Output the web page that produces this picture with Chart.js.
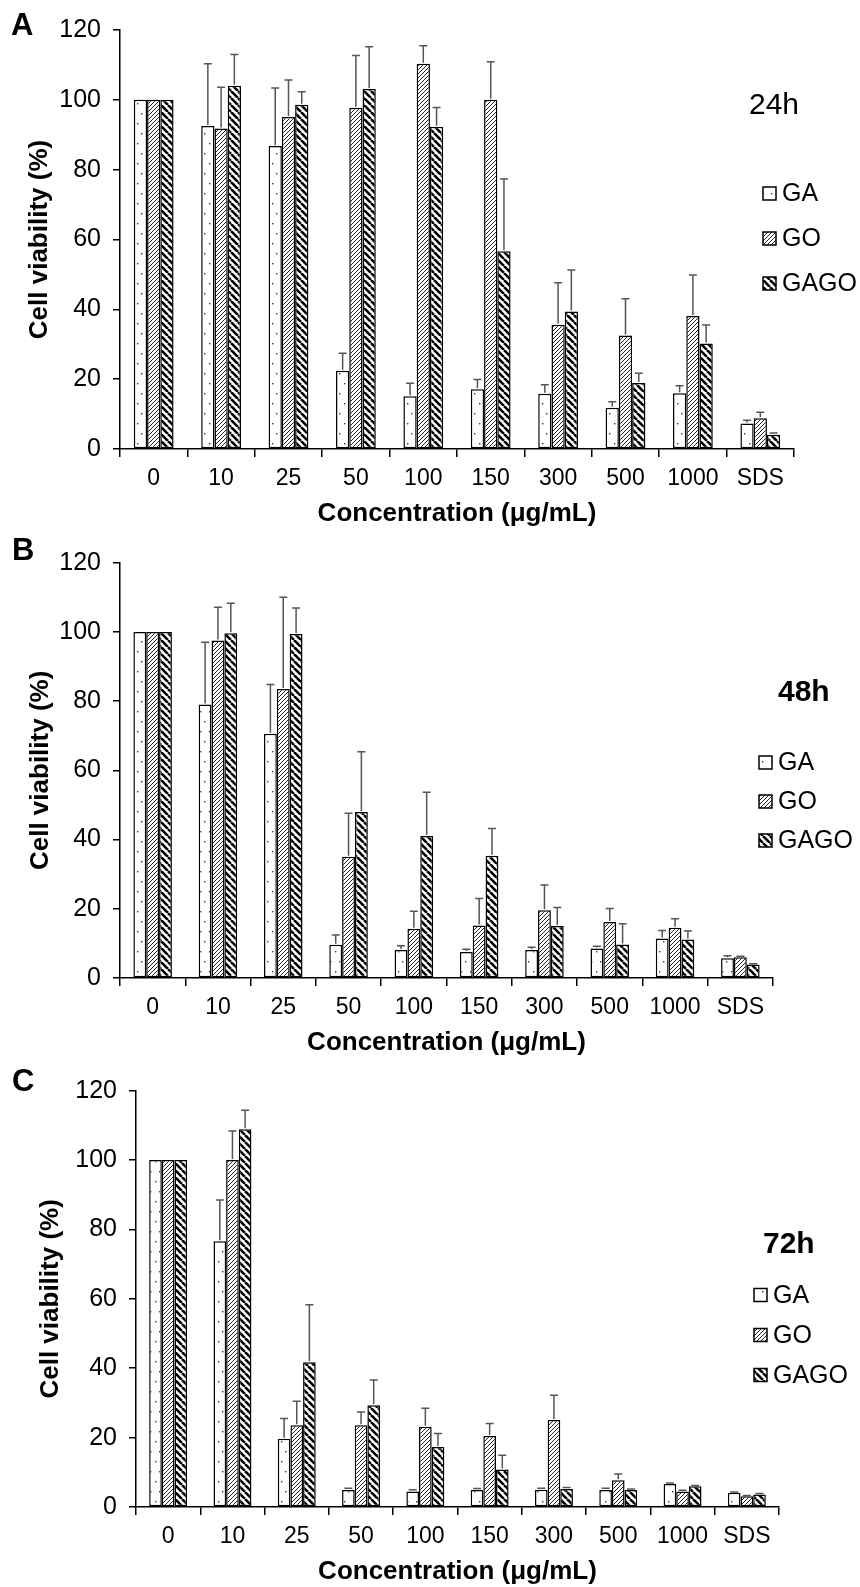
<!DOCTYPE html>
<html><head><meta charset="utf-8">
<script src="https://cdn.jsdelivr.net/npm/chart.js@4.4.0/dist/chart.umd.min.js"></script>
<style>
html,body{margin:0;padding:0;background:#fff;width:860px;height:1587px;overflow:hidden}
canvas{position:absolute;left:0}
</style></head><body>
<canvas id="cA" width="860" height="528" style="top:0px"></canvas>
<canvas id="cB" width="860" height="530" style="top:528px"></canvas>
<canvas id="cC" width="860" height="529" style="top:1058px"></canvas>
<script>
const categories = ['0','10','25','50','100','150','300','500','1000','SDS'];
const seriesNames = ['GA','GO','GAGO'];
const yTickMin = 0, yTickMax = 120, yTickStep = 20;
const xTitle = 'Concentration (μg/mL)';
const yTitle = 'Cell viability (%)';

// 24 h
const ga24 = [100, 92.5, 86.8, 22.4, 15.1, 17.1, 15.8, 11.8, 16.0, 7.3];
const go24 = [100, 91.8, 95.1, 97.7, 110.3, 100.0, 35.6, 32.5, 38.1, 8.8];
const gago24 = [100, 104.0, 98.6, 103.1, 92.3, 56.6, 39.4, 18.9, 30.2, 4.1];
const ga24Err = [0, 17.8, 16.6, 5.0, 3.7, 2.8, 2.6, 1.7, 2.1, 0.9];
const go24Err = [0, 11.8, 10.6, 15.0, 5.2, 10.9, 12.0, 10.5, 11.7, 1.7];
const gago24Err = [0, 9.0, 3.7, 12.1, 5.5, 20.7, 11.9, 2.8, 5.3, 0.5];

// 48 h
const ga48 = [100, 79.0, 70.6, 9.6, 8.1, 7.5, 8.1, 8.5, 11.4, 5.7];
const go48 = [100, 97.5, 83.5, 35.0, 14.2, 15.2, 19.6, 16.2, 14.5, 6.0];
const gago48 = [100, 99.6, 99.4, 48.0, 41.0, 35.3, 15.0, 9.7, 11.1, 3.9];
const ga48Err = [0, 18.0, 14.2, 2.8, 1.2, 0.8, 0.8, 0.7, 2.3, 0.7];
const go48Err = [0, 9.6, 26.5, 12.6, 5.1, 7.8, 7.3, 3.9, 2.6, 0.3];
const gago48Err = [0, 8.7, 7.5, 17.4, 12.7, 7.9, 5.4, 6.0, 2.5, 0.2];

// 72 h
const ga72 = [100, 76.6, 19.7, 4.9, 4.5, 4.9, 5.0, 4.9, 6.6, 4.1];
const go72 = [100, 100, 23.6, 23.6, 23.1, 20.5, 25.1, 7.7, 4.5, 3.1];
const gago72 = [100, 108.9, 41.7, 29.3, 17.3, 10.8, 5.2, 4.9, 6.0, 3.6];
const ga72Err = [0, 11.9, 5.8, 0.5, 0.5, 0.4, 0.4, 0.5, 0.3, 0.2];
const go72Err = [0, 8.4, 6.9, 3.8, 5.4, 3.6, 7.1, 1.8, 0.3, 0.2];
const gago72Err = [0, 5.5, 16.6, 7.3, 3.9, 4.1, 0.4, 0.3, 0.2, 0.3];

const FONT = "'Liberation Sans', Arial, Helvetica, sans-serif";
Chart.defaults.font.family = FONT;
Chart.defaults.color = '#000';

function makePattern(kind) {
  const c = document.createElement('canvas');
  const g = c.getContext('2d');
  if (kind === 'dots') {
    c.width = 9; c.height = 20;
    g.fillStyle = '#fff'; g.fillRect(0, 0, 9, 20);
    g.fillStyle = '#3a3a3a';
    g.fillRect(2, 3, 1.4, 1.4); g.fillRect(6, 13, 1.4, 1.4);
  } else if (kind === 'fine') {
    c.width = 4; c.height = 4;
    g.fillStyle = '#fff'; g.fillRect(0, 0, 4, 4);
    g.strokeStyle = '#222'; g.lineWidth = 1.0;
    g.beginPath();
    for (let k = -1; k <= 1; k++) { g.moveTo(k * 4, 4); g.lineTo(k * 4 + 4, 0); }
    g.stroke();
  } else {
    c.width = 7; c.height = 7;
    g.fillStyle = '#fff'; g.fillRect(0, 0, 7, 7);
    g.strokeStyle = '#000'; g.lineWidth = 2.6;
    g.beginPath();
    for (let k = -1; k <= 1; k++) { g.moveTo(k * 7, 0); g.lineTo(k * 7 + 7, 7); }
    g.stroke();
  }
  return g.createPattern(c, 'repeat');
}
const patterns = [makePattern('dots'), makePattern('fine'), makePattern('thick')];

const errorBarPlugin = {
  id: 'errorBars',
  afterDatasetsDraw(chart) {
    const ctx = chart.ctx, y = chart.scales.y;
    chart.data.datasets.forEach((ds, di) => {
      const meta = chart.getDatasetMeta(di);
      meta.data.forEach((bar, i) => {
        const e = ds.errors[i];
        if (!e) return;
        const yTop = y.getPixelForValue(ds.data[i] + e);
        ctx.save();
        ctx.strokeStyle = '#555'; ctx.lineWidth = 1.5;
        ctx.beginPath();
        ctx.moveTo(bar.x, bar.y - 1); ctx.lineTo(bar.x, yTop);
        ctx.moveTo(bar.x - 4, yTop); ctx.lineTo(bar.x + 4, yTop);
        ctx.stroke();
        ctx.restore();
      });
    });
  }
};

const decorPlugin = {
  id: 'decor',
  afterDraw(chart, args, o) {
    const ctx = chart.ctx;
    ctx.save();
    ctx.fillStyle = '#000'; ctx.textBaseline = 'middle'; ctx.textAlign = 'left';
    ctx.font = 'bold 31px ' + FONT;
    ctx.fillText(o.letter, o.letterX, o.letterY);
    ctx.font = (o.timeBold ? 'bold ' : '') + '30px ' + FONT;
    ctx.fillText(o.time, o.timeX, o.timeY);
    chart.data.datasets.forEach((ds, i) => {
      const cy = o.legendY + i * o.legendGap;
      ctx.fillStyle = ds.backgroundColor;
      ctx.fillRect(o.legendX, cy - 6.5, 13, 13);
      ctx.strokeStyle = '#000'; ctx.lineWidth = 1.5;
      ctx.strokeRect(o.legendX, cy - 6.5, 13, 13);
      ctx.fillStyle = '#000';
      ctx.font = '25px ' + FONT;
      ctx.fillText(ds.label, o.legendX + 19, cy + 1);
    });
    ctx.restore();
  }
};

function makeChart(id, series, errs, g) {
  const H = document.getElementById(id).height;
  return new Chart(document.getElementById(id), {
    type: 'bar',
    data: {
      labels: categories,
      datasets: seriesNames.map((n, i) => ({
        label: n, data: series[i], errors: errs[i],
        backgroundColor: patterns[i], borderColor: '#000', borderWidth: 1.5,
        borderSkipped: false, categoryPercentage: 0.59, barPercentage: 1.0
      }))
    },
    options: {
      responsive: false, animation: false, devicePixelRatio: 1,
      layout: { padding: { left: 0, right: 860 - g.right, top: g.top, bottom: 0 } },
      plugins: { legend: { display: false }, tooltip: { enabled: false }, decor: g.decor },
      scales: {
        x: {
          grid: { display: true, drawOnChartArea: false, drawTicks: true, tickLength: 8, color: '#000', lineWidth: 1.5, offset: true },
          border: { display: true, color: '#000', width: 1.5 },
          ticks: { font: { size: 23 }, padding: 8, color: '#000', maxRotation: 0, autoSkip: false },
          title: { display: true, text: xTitle, font: { size: 26, weight: 'bold', lineHeight: 1 }, padding: { top: 0, bottom: g.xTitlePad } },
          afterFit(s) { s.height = H - g.bottom; }
        },
        y: {
          min: yTickMin, max: yTickMax,
          grid: { display: true, drawOnChartArea: false, drawTicks: true, tickLength: 7, color: '#000', lineWidth: 1.5 },
          border: { display: true, color: '#000', width: 1.5 },
          ticks: { stepSize: yTickStep, font: { size: 25 }, padding: 12, color: '#000' },
          title: { display: true, text: yTitle, font: { size: 26, weight: 'bold', lineHeight: 1 }, padding: { top: g.yTitlePad, bottom: 0 } },
          afterFit(s) { s.width = g.left; }
        }
      }
    },
    plugins: [errorBarPlugin, decorPlugin]
  });
}

makeChart('cA', [ga24, go24, gago24], [ga24Err, go24Err, gago24Err],
  { left: 120, right: 794, top: 30, bottom: 449, xTitlePad: 1, yTitlePad: 27,
    decor: { letter: 'A', letterX: 11, letterY: 26, time: '24h', timeBold: false, timeX: 749, timeY: 106,
             legendX: 763, legendY: 193.5, legendGap: 45 } });
makeChart('cB', [ga48, go48, gago48], [ga48Err, go48Err, gago48Err],
  { left: 120, right: 773, top: 34.7, bottom: 450, xTitlePad: 2, yTitlePad: 28,
    decor: { letter: 'B', letterX: 12, letterY: 23, time: '48h', timeBold: true, timeX: 778, timeY: 165,
             legendX: 759, legendY: 234.5, legendGap: 39 } });
makeChart('cC', [ga72, go72, gago72], [ga72Err, go72Err, gago72Err],
  { left: 136, right: 779, top: 32.7, bottom: 449, xTitlePad: 2, yTitlePad: 38,
    decor: { letter: 'C', letterX: 12, letterY: 24, time: '72h', timeBold: true, timeX: 763, timeY: 187,
             legendX: 754, legendY: 237, legendGap: 40 } });
</script>
</body></html>
